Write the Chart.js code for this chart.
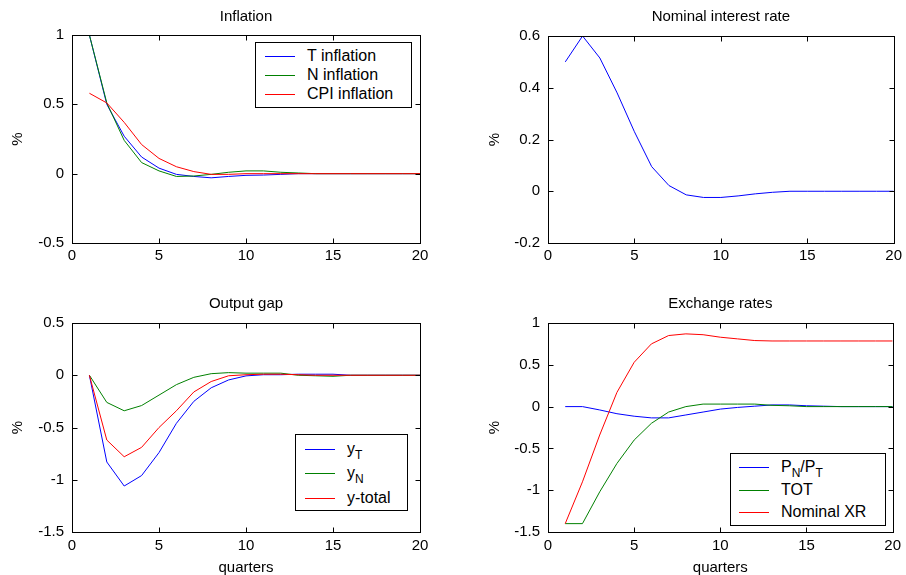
<!DOCTYPE html>
<html lang="en">
<head>
<meta charset="UTF-8">
<title>Impulse responses</title>
<script src="https://cdn.jsdelivr.net/npm/chart.js"></script>
<style>
    body { margin: 0; background: #fff; }
    .janela { position: relative; width: 906px; height: 575px; overflow: hidden; }
    .painel { position: absolute; }
    .legenda {
        position: absolute; background: #fff; border: 1px solid #000;
        font-family: "Liberation Sans", Arial, sans-serif; font-size: 16px; color: #000;
        box-sizing: border-box;
    }
    .linha-leg { position: absolute; width: 140px; height: 22px; line-height: 22px; white-space: nowrap; }
    .amostra { position: absolute; left: 0; top: 11px; width: 30px; height: 0; border-top: 1px solid; }
    .linha-leg span.txt { position: absolute; left: 42px; }
    sub { font-size: 12px; vertical-align: -5px; line-height: 0; }
</style>
</head>
<body>
<div class="janela">
    <div class="painel" style="left:0;top:0;width:453px;height:287px"><canvas id="g1"></canvas></div>
    <div class="painel" style="left:453px;top:0;width:453px;height:287px"><canvas id="g2"></canvas></div>
    <div class="painel" style="left:0;top:287px;width:453px;height:288px"><canvas id="g3"></canvas></div>
    <div class="painel" style="left:453px;top:287px;width:453px;height:288px"><canvas id="g4"></canvas></div>

    <!-- legendas -->
    <div class="legenda" style="left:255px;top:42px;width:157px;height:66px">
        <div class="linha-leg" style="left:9px;top:2px"><div class="amostra" style="border-color:#0000ff"></div><span class="txt">T inflation</span></div>
        <div class="linha-leg" style="left:9px;top:21px"><div class="amostra" style="border-color:#008000"></div><span class="txt">N inflation</span></div>
        <div class="linha-leg" style="left:9px;top:40px"><div class="amostra" style="border-color:#ff0000"></div><span class="txt">CPI inflation</span></div>
    </div>
    <div class="legenda" style="left:295px;top:434px;width:113px;height:77px">
        <div class="linha-leg" style="left:9px;top:3px"><div class="amostra" style="border-color:#0000ff"></div><span class="txt">y<sub>T</sub></span></div>
        <div class="linha-leg" style="left:9px;top:27px"><div class="amostra" style="border-color:#008000"></div><span class="txt">y<sub>N</sub></span></div>
        <div class="linha-leg" style="left:9px;top:52px"><div class="amostra" style="border-color:#ff0000"></div><span class="txt">y-total</span></div>
    </div>
    <div class="legenda" style="left:730px;top:453px;width:156px;height:73px">
        <div class="linha-leg" style="left:8px;top:2px"><div class="amostra" style="border-color:#0000ff"></div><span class="txt">P<sub>N</sub>/P<sub>T</sub></span></div>
        <div class="linha-leg" style="left:8px;top:25px"><div class="amostra" style="border-color:#008000"></div><span class="txt">TOT</span></div>
        <div class="linha-leg" style="left:8px;top:47px"><div class="amostra" style="border-color:#ff0000"></div><span class="txt">Nominal XR</span></div>
    </div>
</div>

<script>
    // dados (trimestres 1..20)
    var quarters = [1, 2, 3, 4, 5, 6, 7, 8, 9, 10, 11, 12, 13, 14, 15, 16, 17, 18, 19, 20];

    var tInflation   = [1.0, 0.5, 0.27, 0.12, 0.04, -0.005, -0.02, -0.03, -0.02, -0.012, -0.01, -0.005, 0, 0, 0, 0, 0, 0, 0, 0];
    var nInflation   = [1.0, 0.51, 0.24, 0.08, 0.02, -0.02, -0.017, -0.005, 0.01, 0.02, 0.02, 0.01, 0.005, 0, 0, 0, 0, 0, 0, 0];
    var cpiInflation = [0.58, 0.51, 0.37, 0.21, 0.11, 0.05, 0.015, -0.005, -0.005, 0, 0, 0, 0, 0, 0, 0, 0, 0, 0, 0];

    var nominalRate  = [0.5, 0.6, 0.515, 0.38, 0.23, 0.095, 0.022, -0.014, -0.024, -0.024, -0.018, -0.01, -0.004, 0, 0, 0, 0, 0, 0, 0];

    var yT     = [0, -0.83, -1.06, -0.96, -0.74, -0.46, -0.25, -0.12, -0.045, -0.006, 0.005, 0.005, 0.01, 0.01, 0.01, 0, 0, 0, 0, 0];
    var yN     = [0, -0.26, -0.34, -0.29, -0.19, -0.09, -0.02, 0.015, 0.025, 0.02, 0.02, 0.02, 0, -0.005, -0.01, 0, 0, 0, 0, 0];
    var yTotal = [0, -0.62, -0.78, -0.69, -0.5, -0.34, -0.16, -0.06, -0.005, 0.005, 0.01, 0.01, 0.005, 0, 0, 0, 0, 0, 0, 0];

    var pnPt       = [0, 0, -0.04, -0.085, -0.115, -0.135, -0.135, -0.1, -0.065, -0.03, -0.01, 0.005, 0.02, 0.02, 0.01, 0.005, 0, 0, 0, 0];
    var tot        = [-1.4, -1.4, -1.02, -0.68, -0.4, -0.2, -0.065, 0, 0.03, 0.03, 0.03, 0.03, 0.015, 0.01, 0, 0, 0, 0, 0, 0];
    var nominalXR  = [-1.4, -0.9, -0.34, 0.17, 0.53, 0.75, 0.85, 0.87, 0.86, 0.83, 0.81, 0.79, 0.785, 0.785, 0.785, 0.785, 0.785, 0.785, 0.785, 0.785];

    var xTicks = [0, 5, 10, 15, 20];

    var fonte = { family: '"Liberation Sans", Arial, sans-serif', size: 15, weight: 'normal' };

    function pontos(valores) {
        var lista = [];
        for (var i = 0; i < quarters.length; i++) {
            lista.push({ x: quarters[i], y: valores[i] });
        }
        return lista;
    }

    function serie(valores, cor, ordem) {
        return {
            data: pontos(valores),
            borderColor: cor,
            borderWidth: 1,
            pointRadius: 0,
            tension: 0,
            fill: false,
            order: ordem
        };
    }

    // caixa em volta da area e ticks para dentro (estilo matlab)
    var caixaPlugin = {
        id: 'caixa',
        afterDatasetsDraw: function (chart) {
            var ctx = chart.ctx;
            var a = chart.chartArea;
            var L = Math.round(a.left) + 0.5, R = Math.round(a.right) + 0.5;
            var T = Math.round(a.top) + 0.5, B = Math.round(a.bottom) + 0.5;
            var tam = 5;
            ctx.save();
            ctx.strokeStyle = '#000';
            ctx.lineWidth = 1;
            ctx.strokeRect(L, T, R - L, B - T);
            ctx.beginPath();
            chart.scales.x.ticks.forEach(function (t) {
                var px = Math.round(chart.scales.x.getPixelForValue(t.value)) + 0.5;
                ctx.moveTo(px, B); ctx.lineTo(px, B - tam);
                ctx.moveTo(px, T); ctx.lineTo(px, T + tam);
            });
            chart.scales.y.ticks.forEach(function (t) {
                var py = Math.round(chart.scales.y.getPixelForValue(t.value)) + 0.5;
                ctx.moveTo(L, py); ctx.lineTo(L + tam, py);
                ctx.moveTo(R, py); ctx.lineTo(R - tam, py);
            });
            ctx.stroke();
            ctx.restore();
        }
    };

    function criarGrafico(id, p) {
        return new Chart(document.getElementById(id), {
            type: 'line',
            data: { datasets: p.datasets },
            options: {
                responsive: true,
                maintainAspectRatio: false,
                animation: false,
                layout: { padding: { right: p.direita, top: 0, bottom: 0, left: 0 } },
                plugins: {
                    legend: { display: false },
                    tooltip: { enabled: false },
                    title: {
                        display: true,
                        text: p.titulo,
                        color: '#000',
                        fullSize: false,
                        font: fonte,
                        padding: { top: 8, bottom: p.alturaTitulo - 26 }
                    }
                },
                scales: {
                    x: {
                        type: 'linear',
                        min: 0, max: 20,
                        afterBuildTicks: function (s) { s.ticks = xTicks.map(function (v) { return { value: v }; }); },
                        grid: { display: false, drawTicks: false },
                        border: { display: false },
                        ticks: { color: '#000', font: fonte, padding: p.padTickX, maxRotation: 0 },
                        title: { display: p.eixoX, text: 'quarters', color: '#000', font: fonte, padding: { top: 0, bottom: -2 } },
                        afterFit: function (s) { s.height = p.alturaX; }
                    },
                    y: {
                        min: p.ymin, max: p.ymax,
                        ticks: {
                            stepSize: p.passo, color: '#000', font: fonte, padding: 8,
                            callback: function (v) { return String(+v.toFixed(2)); }
                        },
                        grid: { display: false, drawTicks: false },
                        border: { display: false },
                        title: { display: true, text: '%', color: '#000', font: fonte, padding: { top: p.padY, bottom: 0 } },
                        afterFit: function (s) { s.width = p.larguraY; }
                    }
                }
            },
            plugins: [caixaPlugin]
        });
    }

    criarGrafico('g1', {
        titulo: 'Inflation', ymin: -0.5, ymax: 1, passo: 0.5,
        larguraY: 72, direita: 33, alturaTitulo: 35, alturaX: 44, eixoX: false, padY: 9, padTickX: 4,
        datasets: [
            serie(tInflation, '#0000ff', 3),
            serie(nInflation, '#008000', 2),
            serie(cpiInflation, '#ff0000', 1)
        ]
    });

    criarGrafico('g2', {
        titulo: 'Nominal interest rate', ymin: -0.2, ymax: 0.6, passo: 0.2,
        larguraY: 95, direita: 10, alturaTitulo: 36, alturaX: 44, eixoX: false, padY: 33, padTickX: 4,
        datasets: [
            serie(nominalRate, '#0000ff', 1)
        ]
    });

    criarGrafico('g3', {
        titulo: 'Output gap', ymin: -1.5, ymax: 0.5, passo: 0.5,
        larguraY: 72, direita: 33, alturaTitulo: 36, alturaX: 43, eixoX: true, padY: 9, padTickX: 5,
        datasets: [
            serie(yT, '#0000ff', 3),
            serie(yN, '#008000', 2),
            serie(yTotal, '#ff0000', 1)
        ]
    });

    criarGrafico('g4', {
        titulo: 'Exchange rates', ymin: -1.5, ymax: 1, passo: 0.5,
        larguraY: 95, direita: 10, alturaTitulo: 36, alturaX: 43, eixoX: true, padY: 33, padTickX: 5,
        datasets: [
            serie(pnPt, '#0000ff', 3),
            serie(tot, '#008000', 2),
            serie(nominalXR, '#ff0000', 1)
        ]
    });
</script>
</body>
</html>
